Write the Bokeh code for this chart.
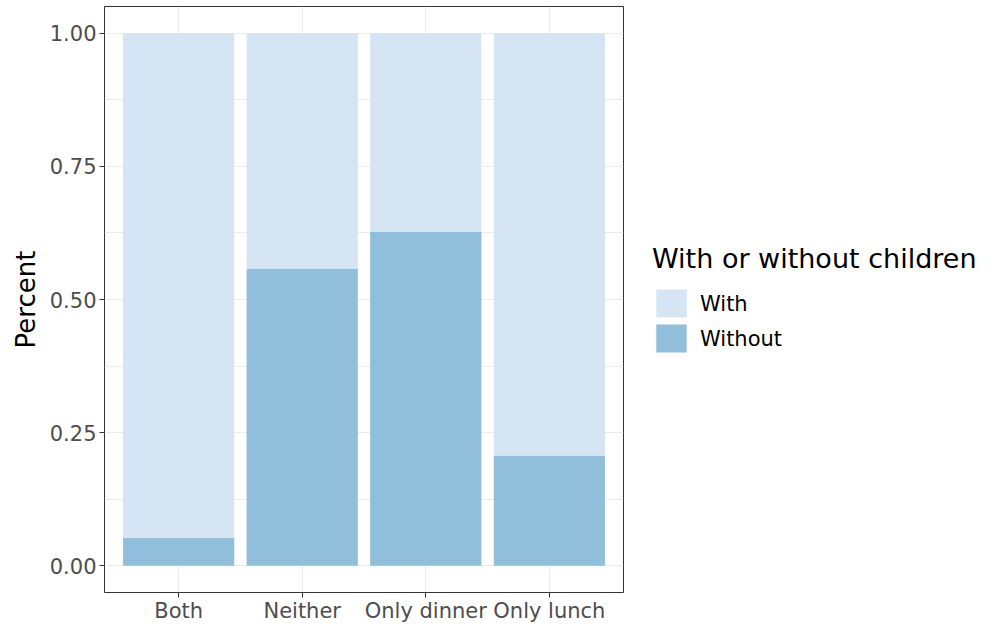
from bokeh.plotting import figure
from bokeh.models import (FactorRange, Range1d, FixedTicker, Legend, LegendItem,
                          ColumnDataSource)
from bokeh.embed import file_html
from bokeh.resources import INLINE

categories = ["Both", "Neither", "Only dinner", "Only lunch"]
without_children = [0.053, 0.558, 0.627, 0.207]
with_children = [0.947, 0.442, 0.373, 0.793]
y_ticks = [0.0, 0.25, 0.5, 0.75, 1.0]
y_minor = [0.125, 0.375, 0.625, 0.875]
y_labels = {0.0: "0.00", 0.25: "0.25", 0.5: "0.50", 0.75: "0.75", 1.0: "1.00"}
legend_labels = ["With", "Without"]

FONT = "DejaVu Sans"
c_with = "#d5e5f3"
c_without = "#90bedb"

src = ColumnDataSource(dict(cat=categories, without=without_children, with_=with_children))

p = figure(x_range=FactorRange(factors=categories, range_padding=0.05,
                               range_padding_units="percent"),
           y_range=Range1d(-0.05, 1.05),
           width=992, height=622, output_backend="svg", toolbar_location=None,
           min_border_left=104, min_border_top=6, min_border_bottom=30,
           min_border_right=369)
p.frame_width = 519
p.frame_height = 586

r = p.vbar_stack(["without", "with_"], x="cat", width=0.9, source=src,
                 color=[c_without, c_with], line_color=None)

p.outline_line_color = "#333333"
p.outline_line_width = 1
p.background_fill_color = "white"
p.border_fill_color = "white"

p.yaxis.ticker = FixedTicker(ticks=y_ticks, minor_ticks=y_minor)
p.yaxis.major_label_overrides = y_labels
p.ygrid.ticker = FixedTicker(ticks=y_ticks, minor_ticks=y_minor)
p.ygrid.grid_line_color = "#ebebeb"
p.ygrid.minor_grid_line_color = "#ebebeb"
p.ygrid.minor_grid_line_width = 1
p.xgrid.grid_line_color = "#ebebeb"
p.grid.level = "underlay"

for ax in (p.xaxis, p.yaxis):
    ax.axis_line_color = None
    ax.major_tick_line_color = "#333333"
    ax.major_tick_out = 5
    ax.major_tick_in = 0
    ax.minor_tick_line_color = None
    ax.major_label_text_font = FONT
    ax.major_label_text_font_size = "21px"
    ax.major_label_text_color = "#4d4d4d"
p.yaxis.major_label_standoff = 3
p.xaxis.major_label_standoff = 1

p.xaxis.axis_label = None
p.yaxis.axis_label = "Percent"
p.yaxis.axis_label_text_font = FONT
p.yaxis.axis_label_text_font_size = "26px"
p.yaxis.axis_label_text_font_style = "normal"
p.yaxis.axis_label_text_color = "black"
p.yaxis.axis_label_standoff = 6

legend = Legend(items=[LegendItem(label=legend_labels[0], renderers=[r[1]]),
                       LegendItem(label=legend_labels[1], renderers=[r[0]])],
                title="With or without children",
                location="center_left")
legend.title_text_font = FONT
legend.title_text_font_size = "27px"
legend.title_text_font_style = "normal"
legend.title_text_color = "black"
legend.title_standoff = 12
legend.label_text_font = FONT
legend.label_text_font_size = "21px"
legend.label_text_color = "black"
legend.glyph_width = 38
legend.glyph_height = 35
legend.label_standoff = 10
legend.spacing = 0
legend.padding = 0
legend.margin = 29
legend.border_line_color = None
legend.background_fill_color = "white"
p.add_layout(legend, "right")

open("out.html", "w").write(file_html(p, INLINE))
